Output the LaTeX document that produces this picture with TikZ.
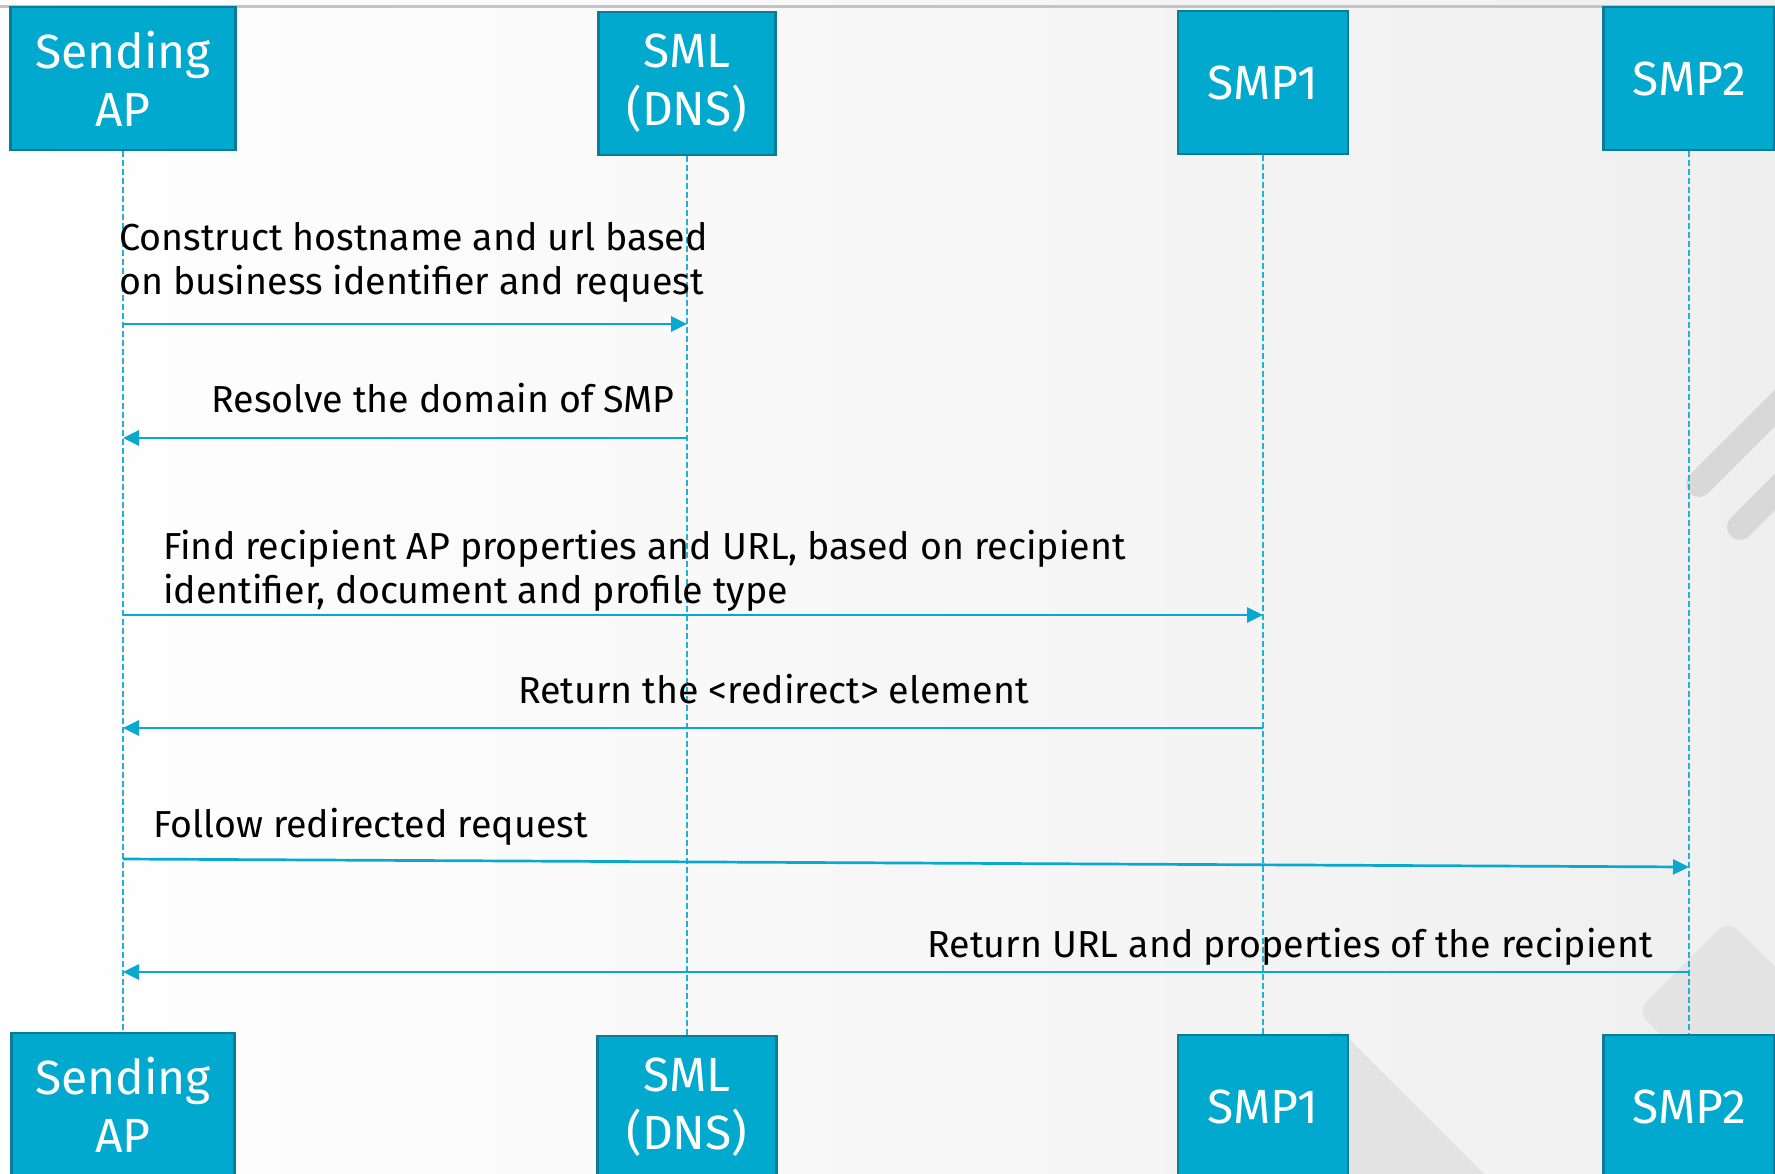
\documentclass[tikz,border=0pt]{standalone}
\usepackage{fontspec}
\setmainfont{Fira Sans}
\usetikzlibrary{arrows.meta}
\definecolor{boxfill}{HTML}{01A9CE}
\definecolor{boxedge}{HTML}{0B7C97}
\definecolor{msgline}{HTML}{08A8CF}
\definecolor{lifeblue}{HTML}{22B0D5}
\definecolor{bgright}{HTML}{EFEFEF}
\definecolor{barsgray}{HTML}{D8D8D8}
\definecolor{shapegray}{HTML}{E3E3E3}
\definecolor{topline}{HTML}{C4C4C4}

\begin{document}
\begin{tikzpicture}[x=1pt,y=-1pt,
  actor/.style={draw=boxedge, line width=2.5pt, fill=boxfill, text=white,
    font=\fontsize{48}{58}\selectfont, align=center, inner sep=0pt,
    minimum height=143pt},
  lifeline/.style={draw=lifeblue, line width=1.5pt, dash pattern=on 6pt off 3pt},
  message/.style={draw=msgline, line width=2.7pt,
    -{Triangle[length=16pt,width=15pt]}},
  msgtext/.style={font=\fontsize{37.6}{44}\selectfont, inner sep=0pt, align=left},
]
\useasboundingbox (0,0) rectangle (1775,1173);
\clip (0,0) rectangle (1775,1173);

% page background
\shade[left color=white, right color=bgright] (0,0) rectangle (1775,1173);
\draw[topline, line width=3pt] (0,6) -- (1775,6);

% decorative grey shapes
\draw[barsgray, line width=26pt, line cap=round] (1699,484) -- (1830,353);
\draw[barsgray, line width=26pt, line cap=round] (1740,527) -- (1850,417);
\fill[shapegray, rounded corners=14pt] (1336,1026) -- (1536,1226) -- (1336,1426) -- (1136,1226) -- cycle;
\fill[shapegray, rounded corners=14pt] (1728,920) -- (2028,1220) -- (1937,1311) -- (1637,1011) -- cycle;

% participants, top row
\node[actor, minimum width=225pt] (apT)   at (123,78.5)   {Sending\\AP};
\node[actor, minimum width=177pt] (smlT)  at (687,83.5)   {SML\\(DNS)};
\node[actor, minimum width=170pt] (smp1T) at (1263,82.5)  {SMP1};
\node[actor, minimum width=171pt] (smp2T) at (1689,78.5)  {SMP2};

% participants, bottom row
\node[actor, minimum width=223pt] (apB)   at (123,1104.5) {Sending\\AP};
\node[actor, minimum width=179pt] (smlB)  at (687,1107.5) {SML\\(DNS)};
\node[actor, minimum width=170pt] (smp1B) at (1263,1106.5){SMP1};
\node[actor, minimum width=171pt] (smp2B) at (1689,1106.5){SMP2};

% lifelines
\draw[lifeline] (apT.south)   -- (apB.north);
\draw[lifeline] (smlT.south)  -- (smlB.north);
\draw[lifeline] (smp1T.south) -- (smp1B.north);
\draw[lifeline] (smp2T.south) -- (smp2B.north);

% message end points on the lifelines
\coordinate (m1a) at (apT.south |- 0,324);
\coordinate (m1b) at (smlT.south |- 0,324);
\coordinate (m2a) at (smlT.south |- 0,438);
\coordinate (m2b) at (apT.south |- 0,438);
\coordinate (m3a) at (apT.south |- 0,615);
\coordinate (m3b) at (smp1T.south |- 0,615);
\coordinate (m4a) at (smp1T.south |- 0,728);
\coordinate (m4b) at (apT.south |- 0,728);
\coordinate (m5a) at (apT.south |- 0,859);
\coordinate (m5b) at (smp2T.south |- 0,867);
\coordinate (m6a) at (smp2T.south |- 0,972);
\coordinate (m6b) at (apT.south |- 0,972);

% messages
\draw[message] (m1a) -- (m1b);
\draw[message] (m2a) -- (m2b);
\draw[message] (m3a) -- (m3b);
\draw[message] (m4a) -- (m4b);
\draw[message] (m5a) -- (m5b);
\draw[message] (m6a) -- (m6b);

% message labels (base anchor = baseline of the last line)
\node[msgtext, anchor=base west] (t1) at (119,294)
  {Construct hostname and url based\\on business identifier and request};
\node[msgtext, anchor=base east] (t2) at (675,412) {Resolve the domain of SMP};
\node[msgtext, anchor=base west] (t3) at (163,603)
  {Find recipient AP properties and URL, based on recipient\\identifier, document and profile type};
\node[msgtext, anchor=base west] (t4) at (518,703) {Return the <redirect> element};
\node[msgtext, anchor=base west] (t5) at (153,837) {Follow redirected request};
\node[msgtext, anchor=base east] (t6) at (1653,957) {Return URL and properties of the recipient};
\end{tikzpicture}
\end{document}
